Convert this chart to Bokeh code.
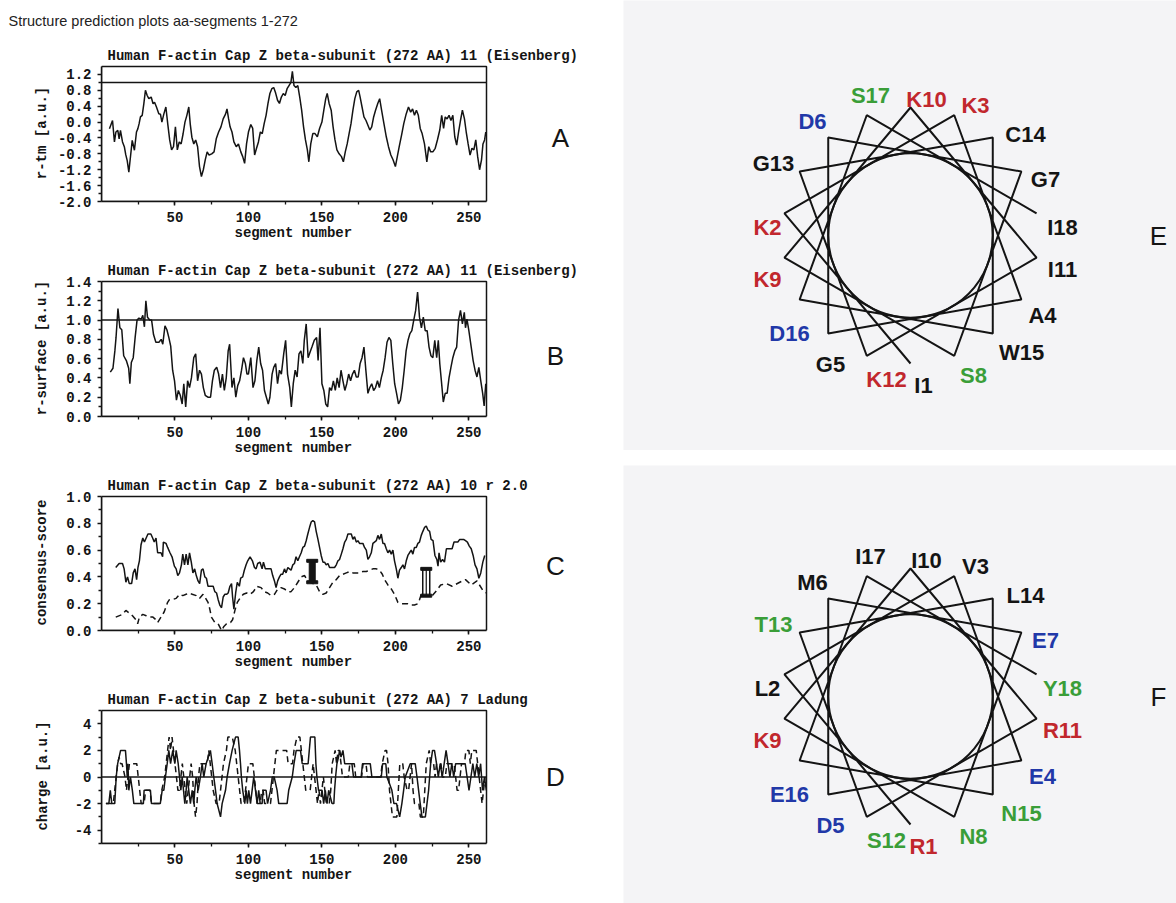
import numpy as np
from bokeh.plotting import figure
from bokeh.models import Range1d, FixedTicker, PrintfTickFormatter, Title, Spacer
from bokeh.layouts import row, column
from bokeh.core.properties import value
from bokeh.embed import file_html
from bokeh.resources import INLINE

MONO = "Liberation Mono"
SANS = "Liberation Sans"
INK = "#141414"
PANEL = "#f4f4f6"

HEADER = "Structure prediction plots aa-segments 1-272"
TITLE_A = "Human F-actin Cap Z beta-subunit (272 AA) 11 (Eisenberg)"
TITLE_B = "Human F-actin Cap Z beta-subunit (272 AA) 11 (Eisenberg)"
TITLE_C = "Human F-actin Cap Z beta-subunit (272 AA) 10 r 2.0"
TITLE_D = "Human F-actin Cap Z beta-subunit (272 AA) 7 Ladung"
XLABEL = "segment number"
YLABEL_A = "r-tm [a.u.]"
YLABEL_B = "r-surface [a.u.]"
YLABEL_C = "consensus-score"
YLABEL_D = "charge [a.u.]"

X_RANGE = (0, 262)
X_TICKS = [50, 100, 150, 200, 250]
X_MINOR = [25, 50, 75, 100, 125, 150, 175, 200, 225, 250]

A_RANGE = (-2.0, 1.4)
A_TICKS = [-2.0, -1.6, -1.2, -0.8, -0.4, 0.0, 0.4, 0.8, 1.2]
A_MINOR = [-1.8, -1.4, -1.0, -0.6, -0.2, 0.2, 0.6, 1.0]
A_THRESHOLD = 1.0
A_POINTS = [
    (5.4, -0.17), (7.5, 0.04), (8.8, -0.5), (9.8, -0.25), (11.1, -0.21), (12.0, -0.42), (12.9, -0.21),
    (14.3, -0.5), (15.6, -0.63), (16.5, -0.82), (17.5, -0.97), (18.6, -1.26), (19.7, -0.88), (20.9, -0.46),
    (22.4, -0.71), (23.8, -0.25), (24.7, -0.17), (25.6, -0.04), (26.5, 0.13), (27.7, 0.17), (28.8, 0.46),
    (29.9, 0.8), (31.1, 0.67), (32.2, 0.59), (33.8, 0.63), (35.1, 0.46), (36.1, 0.5), (37.4, 0.38),
    (39.0, 0.21), (40.1, 0.2), (41.1, 0.0), (42.4, 0.2), (43.8, 0.38), (45.1, -0.05), (46.4, -0.45),
    (47.7, -0.7), (49.0, -0.62), (50.3, -0.12), (51.6, -0.7), (52.9, -0.5), (54.2, -0.55), (55.5, -0.3),
    (56.8, 0.0), (58.1, 0.17), (59.4, 0.38), (60.4, -0.05), (61.5, -0.38), (62.8, -0.55), (64.1, -0.45),
    (65.4, -0.62), (66.7, -1.12), (68.0, -1.37), (69.3, -1.2), (70.6, -0.95), (71.9, -0.75), (73.2, -0.83),
    (75.0, -0.8), (76.6, -0.75), (78.1, -0.42), (79.7, -0.25), (81.3, -0.12), (82.8, 0.08), (84.4, 0.2),
    (85.4, 0.33), (86.5, 0.08), (87.5, -0.12), (88.8, -0.25), (90.1, -0.5), (91.7, -0.62), (93.2, -0.55),
    (94.8, -0.75), (96.1, -0.87), (97.4, -1.04), (98.7, -0.55), (100.0, -0.25), (101.6, -0.06), (102.9, -0.16),
    (104.2, -0.83), (105.5, -0.66), (106.8, -0.5), (108.1, -0.25), (109.4, -0.29), (110.7, -0.04), (112.0, 0.17),
    (113.3, 0.47), (114.6, 0.72), (115.9, 0.84), (117.2, 0.87), (118.5, 0.73), (119.8, 0.55), (121.1, 0.47),
    (122.4, 0.63), (123.7, 0.72), (125.0, 0.67), (126.3, 0.84), (127.6, 0.92), (128.9, 1.0), (129.9, 1.28),
    (131.0, 0.92), (132.3, 0.87), (133.6, 0.92), (134.9, 0.63), (136.2, 0.3), (137.5, -0.12), (138.8, -0.45),
    (140.1, -0.7), (141.1, -1.0), (142.4, -0.55), (143.8, -0.29), (145.3, -0.29), (146.9, -0.37), (148.4, -0.16),
    (150.0, 0.0), (151.3, 0.3), (152.6, 0.59), (153.6, 0.72), (154.9, 0.47), (156.3, 0.3), (157.6, -0.12),
    (158.9, -0.45), (160.2, -0.7), (161.7, -0.8), (163.3, -0.87), (164.6, -1.0), (165.9, -0.75), (167.2, -0.55),
    (168.5, -0.29), (169.8, -0.04), (171.1, 0.3), (172.4, 0.59), (173.7, 0.76), (175.0, 0.8), (176.0, 0.63),
    (177.3, 0.38), (178.6, 0.13), (180.0, 0.04), (181.3, -0.08), (182.6, -0.2), (183.9, -0.12), (185.2, 0.13),
    (186.5, 0.3), (188.0, 0.47), (189.3, 0.59), (190.6, 0.3), (192.2, -0.04), (193.8, -0.37), (195.3, -0.62),
    (196.9, -0.83), (198.4, -0.95), (200.0, -1.12), (201.3, -0.87), (202.6, -0.62), (204.2, -0.33), (205.7, -0.04),
    (207.3, 0.2), (208.9, 0.38), (210.4, 0.25), (211.7, 0.33), (213.0, 0.17), (214.3, 0.3), (215.6, 0.17),
    (216.9, -0.16), (218.2, -0.29), (219.8, -0.55), (221.4, -1.0), (222.7, -0.62), (224.0, -0.75), (225.5, -0.75),
    (227.1, -0.66), (228.6, -0.45), (230.2, -0.2), (231.5, 0.17), (232.8, -0.16), (233.9, 0.13), (235.2, 0.08),
    (236.5, 0.17), (237.8, 0.04), (239.1, 0.17), (240.4, -0.37), (241.7, -0.58), (243.0, -0.25), (244.3, 0.04),
    (245.6, 0.3), (247.0, 0.08), (248.2, -0.25), (249.5, -0.55), (250.8, -0.83), (252.1, -0.66), (253.4, -0.7),
    (254.7, -0.45), (256.0, -0.87), (257.3, -1.2), (258.6, -0.95), (259.6, -0.55), (260.7, -0.45), (261.5, -0.25),
]

B_RANGE = (0.0, 1.4)
B_TICKS = [0.0, 0.2, 0.4, 0.6, 0.8, 1.0, 1.2, 1.4]
B_MINOR = [0.1, 0.3, 0.5, 0.7, 0.9, 1.1, 1.3]
B_THRESHOLD = 1.0
B_POINTS = [
    (6.0, 0.46), (7.8, 0.5), (9.1, 0.68), (9.9, 0.82), (11.2, 1.12), (12.5, 0.92), (13.8, 0.9), (15.1, 0.63),
    (16.9, 0.58), (18.5, 0.5), (19.3, 0.34), (20.3, 0.56), (21.6, 0.61), (22.9, 0.82), (24.2, 1.0), (25.5, 1.02),
    (27.1, 1.01), (28.1, 1.05), (29.2, 0.93), (30.2, 1.2), (31.3, 1.03), (32.8, 1.0), (34.1, 1.0), (35.4, 0.85),
    (37.0, 0.77), (39.1, 0.77), (40.6, 0.8), (41.7, 0.75), (43.2, 0.94), (44.5, 0.9), (45.8, 0.82), (47.1, 0.73),
    (48.4, 0.48), (49.7, 0.37), (51.0, 0.17), (52.3, 0.27), (53.6, 0.22), (54.9, 0.13), (56.0, 0.34), (57.3, 0.1),
    (58.6, 0.37), (59.9, 0.3), (61.2, 0.4), (62.8, 0.61), (64.1, 0.65), (65.4, 0.37), (66.7, 0.48), (68.0, 0.44),
    (69.3, 0.3), (70.6, 0.22), (72.4, 0.2), (74.2, 0.2), (75.5, 0.37), (76.8, 0.48), (78.4, 0.51), (79.7, 0.44),
    (81.0, 0.3), (82.3, 0.44), (83.6, 0.27), (84.9, 0.4), (86.2, 0.68), (87.2, 0.75), (88.8, 0.3), (90.1, 0.4),
    (91.4, 0.2), (92.7, 0.32), (94.0, 0.37), (95.3, 0.48), (96.6, 0.61), (97.9, 0.55), (99.0, 0.44), (100.0, 0.44),
    (101.6, 0.61), (103.1, 0.3), (104.4, 0.37), (105.7, 0.58), (107.0, 0.72), (108.3, 0.55), (109.6, 0.48),
    (110.9, 0.27), (112.2, 0.2), (113.5, 0.13), (114.6, 0.2), (116.1, 0.44), (117.2, 0.51), (118.5, 0.55),
    (119.8, 0.34), (121.1, 0.48), (122.4, 0.44), (124.0, 0.65), (125.3, 0.79), (126.6, 0.44), (128.1, 0.3),
    (129.2, 0.1), (130.5, 0.34), (131.8, 0.48), (133.1, 0.41), (134.4, 0.65), (135.7, 0.68), (137.0, 0.55),
    (138.0, 0.79), (139.3, 0.96), (140.6, 0.61), (142.2, 0.68), (143.2, 0.72), (144.8, 0.79), (146.4, 0.82),
    (147.4, 0.58), (148.7, 0.92), (150.0, 0.34), (151.3, 0.27), (152.6, 0.13), (153.9, 0.1), (155.2, 0.3),
    (156.5, 0.27), (157.8, 0.37), (159.1, 0.27), (160.4, 0.4), (161.7, 0.3), (163.0, 0.48), (164.3, 0.37),
    (165.6, 0.27), (166.9, 0.34), (168.2, 0.44), (169.5, 0.37), (170.8, 0.44), (172.1, 0.48), (173.4, 0.41),
    (174.7, 0.41), (176.0, 0.55), (177.3, 0.61), (178.6, 0.72), (179.9, 0.48), (181.3, 0.24), (182.6, 0.3),
    (183.9, 0.34), (185.2, 0.27), (186.5, 0.3), (187.8, 0.37), (189.1, 0.3), (190.4, 0.4), (191.7, 0.48),
    (193.0, 0.61), (194.3, 0.77), (195.6, 0.82), (196.9, 0.79), (198.2, 0.55), (199.5, 0.34), (200.8, 0.24),
    (202.1, 0.13), (203.4, 0.17), (204.7, 0.3), (206.0, 0.48), (207.3, 0.68), (208.6, 0.79), (209.9, 0.86),
    (211.2, 0.89), (212.5, 1.0), (213.8, 1.1), (215.1, 1.29), (216.4, 1.03), (217.7, 0.92), (219.0, 1.03),
    (220.3, 0.89), (221.6, 0.89), (222.9, 0.72), (224.2, 0.63), (225.5, 0.61), (226.8, 0.79), (228.1, 0.61),
    (229.2, 0.79), (230.2, 0.55), (231.3, 0.37), (232.6, 0.15), (233.9, 0.24), (235.2, 0.24), (236.5, 0.4),
    (237.8, 0.51), (239.1, 0.61), (240.4, 0.68), (241.7, 0.72), (243.0, 1.0), (244.3, 1.1), (245.6, 0.96),
    (246.9, 1.08), (247.7, 0.92), (248.7, 1.01), (250.0, 0.89), (251.6, 0.72), (252.9, 0.58), (254.2, 0.48),
    (255.5, 0.41), (256.8, 0.51), (258.1, 0.37), (259.4, 0.24), (260.4, 0.11), (261.5, 0.34),
]

C_RANGE = (0.0, 1.0)
C_TICKS = [0.0, 0.2, 0.4, 0.6, 0.8, 1.0]
C_MINOR = [0.1, 0.3, 0.5, 0.7, 0.9]
C_SOLID = [
    (9.7, 0.47), (12.0, 0.5), (14.3, 0.5), (15.4, 0.46), (16.6, 0.36), (17.7, 0.4), (18.9, 0.35), (20.5, 0.35),
    (21.6, 0.43), (22.8, 0.46), (23.9, 0.38), (24.8, 0.47), (25.8, 0.52), (26.9, 0.64), (28.1, 0.69), (29.2, 0.66),
    (31.6, 0.72), (33.6, 0.72), (34.8, 0.69), (35.9, 0.66), (37.1, 0.69), (38.2, 0.58), (40.5, 0.58), (41.6, 0.55),
    (42.1, 0.66), (43.9, 0.65), (45.0, 0.62), (46.6, 0.58), (48.0, 0.55), (49.6, 0.48), (50.8, 0.46), (51.9, 0.41),
    (53.1, 0.43), (54.4, 0.49), (55.3, 0.57), (56.5, 0.49), (57.6, 0.57), (58.8, 0.49), (59.9, 0.58), (61.1, 0.51),
    (62.2, 0.43), (63.4, 0.46), (64.5, 0.41), (65.7, 0.37), (66.8, 0.35), (68.0, 0.45), (69.1, 0.46), (70.3, 0.4),
    (71.4, 0.39), (72.5, 0.33), (76.0, 0.33), (77.1, 0.29), (78.3, 0.28), (79.4, 0.23), (80.5, 0.19), (81.7, 0.17),
    (82.8, 0.25), (83.9, 0.27), (85.1, 0.27), (86.2, 0.28), (87.4, 0.33), (88.5, 0.35), (89.2, 0.25), (90.1, 0.16),
    (91.3, 0.28), (92.4, 0.36), (93.8, 0.33), (94.7, 0.39), (96.1, 0.4), (97.2, 0.45), (98.4, 0.49), (99.5, 0.52),
    (101.1, 0.55), (102.7, 0.52), (104.1, 0.47), (105.2, 0.46), (106.3, 0.5), (107.9, 0.51), (109.3, 0.46),
    (110.2, 0.51), (111.5, 0.46), (115.4, 0.46), (116.5, 0.41), (117.7, 0.37), (118.8, 0.32), (119.9, 0.37),
    (121.1, 0.4), (122.2, 0.42), (123.3, 0.42), (124.5, 0.46), (125.6, 0.43), (126.8, 0.47), (127.9, 0.46),
    (129.0, 0.45), (130.2, 0.49), (131.3, 0.5), (132.4, 0.55), (133.6, 0.52), (134.7, 0.55), (135.9, 0.58),
    (137.0, 0.62), (138.2, 0.63), (139.3, 0.67), (140.4, 0.72), (141.6, 0.77), (142.7, 0.81), (143.8, 0.82),
    (145.0, 0.81), (146.1, 0.74), (147.3, 0.68), (148.4, 0.62), (149.5, 0.56), (150.7, 0.51), (151.8, 0.51),
    (152.9, 0.49), (154.1, 0.5), (155.2, 0.47), (158.6, 0.47), (159.8, 0.49), (160.9, 0.52), (162.0, 0.53),
    (163.2, 0.57), (164.3, 0.61), (165.5, 0.66), (166.6, 0.68), (167.7, 0.72), (170.0, 0.72), (171.1, 0.68),
    (172.2, 0.7), (173.4, 0.66), (174.5, 0.67), (175.6, 0.65), (177.9, 0.65), (179.0, 0.62), (180.2, 0.6),
    (181.3, 0.53), (182.4, 0.55), (183.6, 0.58), (184.7, 0.65), (185.8, 0.66), (187.0, 0.67), (188.1, 0.71),
    (189.2, 0.68), (190.4, 0.72), (191.5, 0.65), (192.6, 0.65), (193.8, 0.61), (194.9, 0.58), (196.0, 0.6),
    (197.2, 0.57), (198.3, 0.6), (199.4, 0.52), (200.6, 0.46), (201.7, 0.39), (202.8, 0.45), (204.0, 0.47),
    (205.1, 0.49), (206.2, 0.46), (207.4, 0.52), (208.5, 0.56), (209.6, 0.58), (210.8, 0.6), (211.9, 0.57),
    (213.0, 0.62), (214.2, 0.62), (215.3, 0.65), (216.4, 0.66), (217.6, 0.71), (218.7, 0.74), (219.9, 0.77),
    (221.0, 0.78), (222.1, 0.75), (223.3, 0.74), (224.3, 0.68), (225.6, 0.67), (226.9, 0.56), (228.2, 0.53),
    (229.0, 0.48), (229.7, 0.58), (230.8, 0.51), (232.1, 0.53), (233.4, 0.51), (234.7, 0.61), (238.6, 0.61),
    (239.9, 0.66), (242.5, 0.66), (243.8, 0.68), (246.4, 0.68), (247.7, 0.67), (249.0, 0.66), (250.3, 0.63),
    (251.6, 0.61), (252.9, 0.56), (254.2, 0.49), (255.5, 0.46), (256.8, 0.39), (258.1, 0.43), (259.5, 0.51),
    (260.8, 0.56),
]
C_DASHED = [
    (9.7, 0.1), (14.3, 0.12), (16.6, 0.15), (18.9, 0.13), (21.1, 0.11), (23.4, 0.08), (24.6, 0.05), (25.8, 0.1),
    (28.1, 0.12), (30.4, 0.11), (32.7, 0.1), (35.0, 0.1), (37.1, 0.08), (38.2, 0.06), (40.5, 0.1), (42.7, 0.14),
    (45.0, 0.21), (46.2, 0.23), (48.0, 0.23), (50.8, 0.24), (53.1, 0.27), (55.3, 0.26), (57.6, 0.27), (59.9, 0.28),
    (61.7, 0.27), (64.5, 0.26), (66.8, 0.24), (69.1, 0.27), (70.9, 0.24), (72.5, 0.21), (73.7, 0.16), (74.8, 0.1),
    (77.1, 0.06), (79.4, 0.05), (81.7, 0.0), (83.3, 0.03), (85.1, 0.05), (87.8, 0.06), (89.2, 0.08), (90.8, 0.15),
    (92.4, 0.21), (94.2, 0.24), (96.5, 0.27), (98.8, 0.28), (101.1, 0.27), (103.4, 0.29), (105.7, 0.33),
    (108.6, 0.32), (110.9, 0.29), (113.1, 0.28), (115.4, 0.26), (117.7, 0.27), (119.9, 0.31), (122.2, 0.32),
    (124.5, 0.31), (126.8, 0.29), (129.0, 0.29), (131.3, 0.32), (133.6, 0.36), (135.9, 0.4), (138.2, 0.41),
    (139.7, 0.38), (142.0, 0.36), (146.1, 0.34), (148.4, 0.29), (150.7, 0.27), (152.9, 0.28), (155.2, 0.32),
    (157.5, 0.36), (159.8, 0.38), (162.0, 0.41), (164.3, 0.42), (166.6, 0.43), (168.9, 0.44), (171.1, 0.43),
    (173.4, 0.43), (175.6, 0.43), (177.9, 0.44), (180.2, 0.44), (182.4, 0.45), (184.7, 0.46), (187.0, 0.46),
    (189.2, 0.45), (191.1, 0.42), (192.6, 0.38), (194.9, 0.34), (197.2, 0.31), (199.4, 0.27), (201.7, 0.21),
    (204.0, 0.2), (206.2, 0.2), (208.5, 0.2), (210.8, 0.19), (213.0, 0.19), (215.3, 0.2), (216.4, 0.23),
    (217.6, 0.27), (218.7, 0.28), (219.9, 0.27), (222.1, 0.27), (224.3, 0.25), (228.2, 0.3), (230.8, 0.34),
    (234.7, 0.35), (238.6, 0.33), (243.8, 0.36), (247.7, 0.38), (251.6, 0.34), (255.5, 0.37), (259.5, 0.3),
    (261.5, 0.28),
]
# helix segment markers in panel C: (segment, low, high, kind)
C_MARKERS = [(143.4, 0.36, 0.52, "I"), (221.0, 0.26, 0.46, "II")]

D_RANGE = (-5, 5)
D_TICKS = [-4, -2, 0, 2, 4]
D_MINOR = [-5, -3, -1, 1, 3, 5]
D_BASELINE = 0
D_SOLID = [
    (3, -2), (5, -2), (6, -1), (7, -2), (9, -2), (10, 0), (11, 1), (13, 2), (16.3, 2), (17, 1), (17.5, 0),
    (18, 1), (18.6, -1), (19.7, 0), (21, -1), (22, -2), (28.5, -2), (29, -1), (33.3, -1), (34, -2), (40, -2),
    (41.3, -1), (42.4, -1), (43.5, 0), (44.7, 1), (45.8, 2), (47, 1), (48.5, 2), (49.9, 1), (50.8, 2),
    (52.2, 1), (53.1, 0), (54, -1), (54.9, 0), (55.8, -1), (56.7, -2), (57.6, -1), (58.3, 0), (59.4, -1),
    (60.5, -2), (61.7, -1), (62.8, -2), (63.5, -1), (64.4, 0), (65.8, -1), (67.3, 0), (68.5, 1), (69.6, 0),
    (71.2, 1), (74.1, 2), (75.3, 1), (76.4, 0), (77.6, -1), (78.7, -2), (81, -3), (82.1, -2), (84.4, -1),
    (85.5, 0), (87.1, 1), (88.9, 2), (91.2, 3), (93, 3), (93.9, 2), (94.6, 1), (95.2, 0), (96.1, -1),
    (97.5, -2), (98.4, -1), (99.3, -2), (100.2, -1), (101.4, -2), (102.5, -1), (103.6, 0), (104.8, -1),
    (105.9, -2), (107, -1), (108, -2), (109.3, -2), (110, -1), (112, -1), (113, -2), (115, -1), (116.2, 0),
    (117.5, 0), (119.5, -1), (120.6, -2), (126.3, -2), (127.4, -1), (129.8, 0), (131, 1), (132.5, 2),
    (135.4, 2), (136.6, 1), (140.6, 1), (141.4, 2), (142.2, 3), (145.2, 3), (145.9, 1), (146.6, 0),
    (147.7, -1), (150.1, -1), (151.2, -2), (152.3, -1), (153.5, -2), (154.6, -1), (156.9, -2), (158.1, -2),
    (158.6, -1), (159.3, 0), (160.2, 1), (161.3, 1.5), (162, 2), (163, 1.5), (164.3, 2), (165.5, 1),
    (170.4, 1), (171.5, 0), (176.7, 0), (177.6, 1), (182.9, 1), (184, 0), (190.4, 0), (191.3, 1), (193.5, 1),
    (194.2, 0), (196, -0.5), (197.6, -1), (199, -2), (200.8, -2), (202.9, -3), (204.4, -2), (205.6, -1),
    (206.7, 0), (210.1, 1), (213.5, 1), (214.7, 0), (215.8, -1), (216.9, -2), (218.1, -3), (220.4, -3),
    (221.5, -2), (222.6, -1), (223.3, 0), (224, 1), (225.3, 2), (226.6, 2), (228, 1), (229.2, 0), (230.5, 1),
    (231.9, 0), (233.2, 1), (234.5, 2), (235.8, 1), (237.1, 0), (238.4, 1), (239.7, 0), (241, 1), (247.5, 1),
    (248.8, 0), (250.1, -1), (251.4, 0), (252.7, 1), (254, 0), (255.4, 1), (256.7, 0), (258, 1), (259.3, -1),
    (260.6, 0), (261.9, -1),
]
D_DASHED = [
    (3, -2), (8, -2), (9, -1), (10, 0), (11, 1), (12, 1.5), (13, 1), (14, 1), (15, 0.5), (16, 0), (17, -1),
    (18, 0), (19, 1), (24, 1), (25, 0), (26, -1), (27, -2), (29, -2), (30, -1), (33, -1), (34, -2), (40, -2),
    (41, -1), (43, 0), (44, 1), (45, 2), (46, 3), (47, 2), (48, 3), (49, 2), (50, 1), (51, 0), (52, -1),
    (53, -1), (54, 0), (55, 1), (56, 0), (57, -1), (58, -2), (59, -1), (60, 0), (61, 1), (62, 0), (63, -2),
    (64, -3), (65, -2), (66, 0), (67, 1), (72, 1), (73, 2), (74, 1), (75, 0), (76, -1), (78, -2), (80, -2),
    (81, -1), (82, 0), (83, 1), (85, 2), (86, 3), (89, 3), (90, 2.5), (91, 2), (92, 1), (93, 0), (94, -1),
    (95, -2), (97, -2), (98, -1), (99, 0), (100, 1), (103, 1), (104, 0), (105, -1), (106, -2), (108, -2),
    (109, -1), (110, -1), (111, -2), (115, -2), (116, -1), (117, 0), (118, 1), (119, 2), (126, 2), (127, 1),
    (130, 1), (131, 2), (133, 3), (135, 3), (136, 2), (137, 1), (138, 0), (139, -1), (142, -1), (143, 0),
    (144, 1), (145, 0), (146, -1), (147, -2), (148, -1), (149, -2), (150, -1), (151, 0), (152, -1), (153, -2),
    (155, -2), (156, -1), (157, 1), (159, 2), (160, 1), (161, 2), (162, 2), (163, 1), (164, 0), (168, 0),
    (169, 1), (172, 1), (173, 0), (177, 0), (178, 1), (180, 1), (181, 0), (190, 0), (191, 1), (193, 2),
    (194, 2), (195, 1), (196, -1), (197, -2), (198, -3), (201, -3), (202, -1), (203, 1), (205, 1), (206, 0),
    (208, -1), (209, -1), (210, 0), (211, 1), (212, -1), (213, -2), (216, -2), (217, -3), (219, -3), (220, -1),
    (221, 1), (222, 1.5), (223, 2), (224, 1), (226, 1), (227, 0), (228, 1), (231, 1), (232, 0), (234, 0),
    (235, 1), (240, 1), (241, 0), (242, -1), (243, -1), (244, 0), (245, 1), (247, 1), (248, 2), (250, 2),
    (251, 1), (252, 2), (255, 2), (256, 1), (257, 0), (258, -1), (259, -2), (260, -1), (261, 0),
]

# helical wheels (18 residues, 100 degrees per residue)
WHEEL_E = ["I", "K", "K", "A", "G", "D", "G", "S", "K", "K", "I", "K", "G", "C", "W", "D", "S", "I"]
WHEEL_F = ["R", "L", "V", "E", "D", "M", "E", "N", "K", "I", "R", "S", "T", "L", "N", "E", "I", "Y"]
STEP_DEG = 100
START_DEG = -90
CLASS_COLORS = {"KR": "#c1272d", "DE": "#2138a8", "STNYQ": "#3a9e38"}

# ---- layout constants (pixels) ----
LEFT_W = 623           # width of left column
BOX_LEFT = 101         # left edge of each plot box
BOX_W = 385            # width of each plot box
RIGHT_W = 1176 - LEFT_W
HEADER_H = 34
WHEEL_R = 128
LABEL_OFFSETS = [(13, 150), (-143, -8), (65, -130), (132, 80), (-80, 129), (-98, -114), (135, -56),
                 (63, 140), (-143, 44), (16, -136), (152, 34), (-24, 144), (-137, -72), (115, -101),
                 (111, 117), (-121, 98), (-40, -140), (152, -8)]

XPP = (X_RANGE[1] - X_RANGE[0]) / BOX_W
LW = 1.5


def style_axes(p, yrange, yticks, yminor, yfmt, ylabel, ylab_standoff):
    p.xaxis.ticker = FixedTicker(ticks=X_TICKS, minor_ticks=X_MINOR)
    p.yaxis.ticker = FixedTicker(ticks=yticks, minor_ticks=yminor)
    p.xaxis.formatter = PrintfTickFormatter(format="%d")
    p.yaxis.formatter = PrintfTickFormatter(format=yfmt)
    p.xaxis.bounds = X_RANGE
    p.yaxis.bounds = yrange
    p.yaxis.axis_label = ylabel
    for ax in (p.xaxis[0], p.yaxis[0]):
        ax.axis_line_color = INK
        ax.axis_line_width = 1.5
        ax.major_tick_line_color = INK
        ax.major_tick_line_width = 1.5
        ax.minor_tick_line_color = INK
        ax.minor_tick_line_width = 1.3
        ax.major_tick_in = 0
        ax.major_tick_out = 4
        ax.minor_tick_in = 0
        ax.minor_tick_out = 3
        ax.major_label_text_font = MONO
        ax.major_label_text_font_style = "bold"
        ax.major_label_text_font_size = "14px"
        ax.major_label_text_color = INK
        ax.axis_label_text_font = MONO
        ax.axis_label_text_font_style = "bold"
        ax.axis_label_text_font_size = "14px"
        ax.axis_label_text_color = INK
    p.xaxis.major_label_standoff = 6
    p.yaxis.major_label_standoff = 6
    p.yaxis.axis_label_standoff = ylab_standoff


def make_panel(fig_top, box_top, box_bot, fig_bot, yrange, yticks, yminor, yfmt, ylabel, ylab_standoff,
               title, letter, letter_x, letter_y):
    pad = 2
    ypp = (yrange[1] - yrange[0]) / (box_bot - box_top)
    x_end = X_RANGE[0] + (LEFT_W - BOX_LEFT) * XPP
    p = figure(width=LEFT_W, height=fig_bot - fig_top,
               x_range=Range1d(X_RANGE[0], x_end), y_range=Range1d(yrange[0], yrange[1] + pad * ypp),
               output_backend="svg", toolbar_location=None,
               min_border_left=BOX_LEFT, min_border_right=0,
               min_border_top=box_top - pad - fig_top, min_border_bottom=fig_bot - box_bot)
    p.grid.visible = False
    p.outline_line_color = None
    p.background_fill_color = "white"
    p.border_fill_color = "white"
    style_axes(p, yrange, yticks, yminor, yfmt, ylabel, ylab_standoff)
    p.quad(left=[X_RANGE[0]], right=[X_RANGE[1]], bottom=[yrange[0]], top=[yrange[1]],
           fill_color=None, line_color=INK, line_width=1.5)
    p.add_layout(Title(text=title, align="left", offset=6, text_font=MONO, text_font_style="bold",
                       text_font_size="14px", text_color=INK, standoff=1), "above")
    p.add_layout(Title(text=XLABEL, align="left", offset=133, text_font=MONO, text_font_style="bold",
                       text_font_size="14px", text_color=INK, standoff=1, vertical_align="top"), "below")
    p.text(x=[(letter_x - BOX_LEFT) * XPP], y=[letter_y], text=[letter], text_color=INK,
           text_font=value(SANS), text_font_size="26px", text_align="center", text_baseline="middle")
    return p


def xy(points):
    xs, ys = zip(*points)
    return list(xs), list(ys)


# header strip (pixel coordinates)
ph = figure(width=LEFT_W, height=HEADER_H, x_range=Range1d(0, LEFT_W), y_range=Range1d(HEADER_H, 0),
            output_backend="svg", toolbar_location=None, min_border=0, frame_align=False)
ph.axis.visible = False
ph.grid.visible = False
ph.outline_line_color = None
ph.text(x=[8], y=[20], text=[HEADER], text_color="#222222", text_font=value(SANS),
        text_font_size="14.5px", text_align="left", text_baseline="middle")

pa = make_panel(HEADER_H, 66, 201, 253, A_RANGE, A_TICKS, A_MINOR, "%.1f", YLABEL_A, 5, TITLE_A, "A", 560, -0.40)
pa.line(list(X_RANGE), [A_THRESHOLD] * 2, line_color=INK, line_width=1.5)
ax_, ay_ = xy(A_POINTS)
pa.line(ax_, ay_, line_color=INK, line_width=LW)

pb = make_panel(253, 281, 416, 463, B_RANGE, B_TICKS, B_MINOR, "%.1f", YLABEL_B, 13, TITLE_B, "B", 555, 0.63)
pb.line(list(X_RANGE), [B_THRESHOLD] * 2, line_color=INK, line_width=1.5)
bx_, by_ = xy(B_POINTS)
pb.line(bx_, by_, line_color=INK, line_width=LW)

pc = make_panel(463, 496, 630, 680, C_RANGE, C_TICKS, C_MINOR, "%.1f", YLABEL_C, 13, TITLE_C, "C", 555, 0.48)
cx_, cy_ = xy(C_SOLID)
pc.line(cx_, cy_, line_color=INK, line_width=LW)
cdx, cdy = xy(C_DASHED)
pc.line(cdx, cdy, line_color=INK, line_width=LW, line_dash="6 4")
for mx, lo, hi, kind in C_MARKERS:
    mid = (lo + hi) / 2
    if kind == "I":
        pc.rect(x=[mx], y=[mid], width=6, height=hi - lo, width_units="screen",
                fill_color=INK, line_color=INK)
    else:
        pc.rect(x=[mx], y=[mid], width=7, height=hi - lo, width_units="screen",
                fill_color="white", line_color=INK, line_width=1.5)
        pc.segment(x0=[mx], y0=[lo], x1=[mx], y1=[hi], line_color=INK, line_width=1.2)
    pc.rect(x=[mx, mx], y=[lo, hi], width=11, height=3, width_units="screen", height_units="screen",
            fill_color=INK, line_color=INK)

pd = make_panel(680, 710, 843, 903, D_RANGE, D_TICKS, D_MINOR, "%d", YLABEL_D, 21, TITLE_D, "D", 555, 0)
pd.line(list(X_RANGE), [D_BASELINE] * 2, line_color=INK, line_width=1.5)
dx_, dy_ = xy(D_SOLID)
pd.line(dx_, dy_, line_color=INK, line_width=LW)
ddx, ddy = xy(D_DASHED)
pd.line(ddx, ddy, line_color=INK, line_width=LW, line_dash="6 4")


def residue_color(aa):
    for group, col in CLASS_COLORS.items():
        if aa in group:
            return col
    return INK


def make_wheel(residues, fig_top, fig_bot, cx, cy, letter):
    height = fig_bot - fig_top
    x0 = -(cx - LEFT_W)
    p = figure(width=RIGHT_W, height=height, x_range=Range1d(x0, x0 + RIGHT_W),
               y_range=Range1d(-(fig_bot - cy), cy - fig_top),
               output_backend="svg", toolbar_location=None, min_border=0)
    p.axis.visible = False
    p.grid.visible = False
    p.outline_line_color = None
    p.background_fill_color = PANEL
    p.border_fill_color = PANEL
    n = np.arange(1, len(residues) + 1)
    th = np.radians(START_DEG - STEP_DEG * (n - 1))
    p.line(WHEEL_R * np.cos(th), WHEEL_R * np.sin(th), line_color=INK, line_width=2)
    p.circle(x=[0], y=[0], radius=WHEEL_R * np.cos(np.radians(STEP_DEG / 2)),
             fill_color=None, line_color=INK, line_width=2)
    lx = [LABEL_OFFSETS[i][0] for i in range(len(residues))]
    ly = [-LABEL_OFFSETS[i][1] for i in range(len(residues))]
    texts = [f"{aa}{i + 1}" for i, aa in enumerate(residues)]
    cols = [residue_color(aa) for aa in residues]
    p.text(x=lx, y=ly, text=texts, text_color=cols, text_font=value(SANS), text_font_style="bold",
           text_font_size="22px", text_align="center", text_baseline="middle")
    p.text(x=[248], y=[0], text=[letter], text_color=INK, text_font=value(SANS),
           text_font_size="26px", text_align="center", text_baseline="middle")
    return p


pe = make_wheel(WHEEL_E, 0, 450, 910, 235, "E")
pf = make_wheel(WHEEL_F, 465, 903, 910, 696, "F")

left = column(ph, pa, pb, pc, pd, spacing=0)
right = column(pe, Spacer(width=RIGHT_W, height=15), pf, spacing=0)
layout = row(left, right, spacing=0)

open("out.html", "w").write(file_html(layout, INLINE))
